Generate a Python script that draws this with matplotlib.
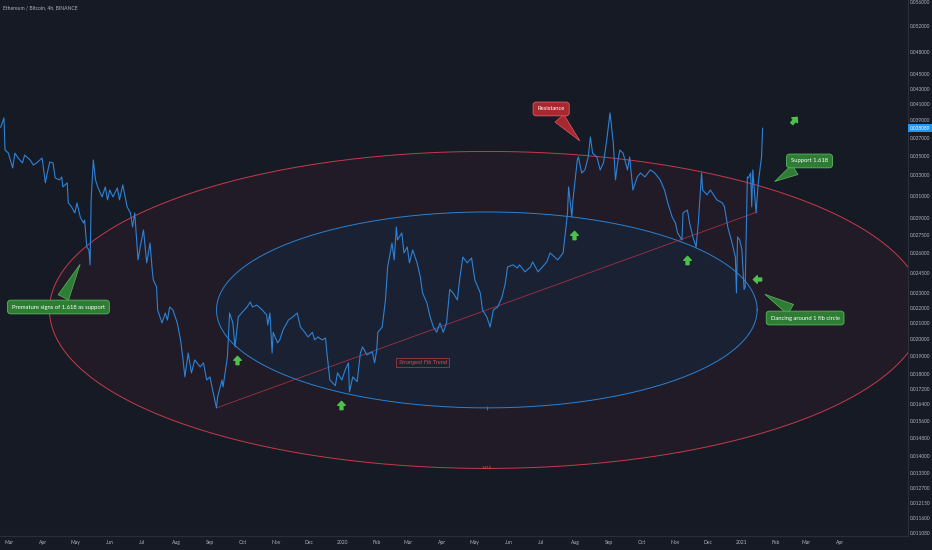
import numpy as np
import pandas as pd
import matplotlib
matplotlib.use("Agg")
import matplotlib.pyplot as plt
import matplotlib.dates as mdates
from matplotlib.path import Path
from matplotlib.markers import MarkerStyle
from matplotlib.transforms import Affine2D
from matplotlib.ticker import FixedLocator, FuncFormatter, NullLocator

## ETH/BTC 4h (one point every few days)
dates = [
    "2019-02-21", "2019-02-24", "2019-02-25", "2019-02-28", "2019-03-04", "2019-03-06", "2019-03-09",
    "2019-03-13", "2019-03-15", "2019-03-20", "2019-03-23", "2019-03-26", "2019-03-31", "2019-04-03",
    "2019-04-04", "2019-04-07", "2019-04-10", "2019-04-12", "2019-04-16", "2019-04-18", "2019-04-19",
    "2019-04-23", "2019-04-24", "2019-04-27", "2019-04-30", "2019-05-02", "2019-05-05", "2019-05-08",
    "2019-05-09", "2019-05-11", "2019-05-13", "2019-05-14", "2019-05-15", "2019-05-17", "2019-05-19",
    "2019-05-21", "2019-05-25", "2019-05-28", "2019-05-30", "2019-06-01", "2019-06-04", "2019-06-08",
    "2019-06-10", "2019-06-13", "2019-06-17", "2019-06-20", "2019-06-22", "2019-06-24", "2019-06-27",
    "2019-06-29", "2019-07-02", "2019-07-05", "2019-07-08", "2019-07-10", "2019-07-11", "2019-07-14",
    "2019-07-15", "2019-07-19", "2019-07-22", "2019-07-24", "2019-07-26", "2019-07-29", "2019-08-02",
    "2019-08-05", "2019-08-07", "2019-08-09", "2019-08-12", "2019-08-15", "2019-08-18", "2019-08-23",
    "2019-08-26", "2019-08-29", "2019-09-01", "2019-09-04", "2019-09-07", "2019-09-08", "2019-09-12",
    "2019-09-13", "2019-09-17", "2019-09-19", "2019-09-22", "2019-09-24", "2019-09-27", "2019-09-30",
    "2019-10-05", "2019-10-08", "2019-10-10", "2019-10-14", "2019-10-19", "2019-10-23", "2019-10-24",
    "2019-10-26", "2019-10-28", "2019-10-29", "2019-11-02", "2019-11-04", "2019-11-07", "2019-11-12",
    "2019-11-16", "2019-11-20", "2019-11-23", "2019-11-27", "2019-11-30", "2019-12-04", "2019-12-06",
    "2019-12-09", "2019-12-13", "2019-12-16", "2019-12-17", "2019-12-20", "2019-12-25", "2019-12-27",
    "2019-12-31", "2020-01-03", "2020-01-06", "2020-01-07", "2020-01-10", "2020-01-14", "2020-01-17",
    "2020-01-19", "2020-01-23", "2020-01-28", "2020-01-30", "2020-02-01", "2020-02-02", "2020-02-06",
    "2020-02-09", "2020-02-11", "2020-02-15", "2020-02-17", "2020-02-19", "2020-02-20", "2020-02-24",
    "2020-02-26", "2020-02-29", "2020-03-02", "2020-03-05", "2020-03-09", "2020-03-12", "2020-03-14",
    "2020-03-18", "2020-03-21", "2020-03-24", "2020-03-27", "2020-03-30", "2020-04-02", "2020-04-05",
    "2020-04-08", "2020-04-11", "2020-04-15", "2020-04-17", "2020-04-20", "2020-04-24", "2020-04-28",
    "2020-05-01", "2020-05-06", "2020-05-08", "2020-05-12", "2020-05-15", "2020-05-18", "2020-05-22",
    "2020-05-26", "2020-05-29", "2020-05-31", "2020-06-05", "2020-06-09", "2020-06-11", "2020-06-16",
    "2020-06-21", "2020-06-23", "2020-06-28", "2020-07-02", "2020-07-06", "2020-07-09", "2020-07-12",
    "2020-07-16", "2020-07-21", "2020-07-25", "2020-07-26", "2020-07-29", "2020-07-30", "2020-08-03",
    "2020-08-04", "2020-08-07", "2020-08-10", "2020-08-13", "2020-08-15", "2020-08-17", "2020-08-21",
    "2020-08-24", "2020-08-27", "2020-08-30", "2020-09-02", "2020-09-05", "2020-09-07", "2020-09-09",
    "2020-09-11", "2020-09-14", "2020-09-18", "2020-09-20", "2020-09-23", "2020-09-27", "2020-09-30",
    "2020-10-04", "2020-10-09", "2020-10-13", "2020-10-18", "2020-10-22", "2020-10-25", "2020-10-29",
    "2020-11-01", "2020-11-03", "2020-11-07", "2020-11-08", "2020-11-12", "2020-11-14", "2020-11-17",
    "2020-11-20", "2020-11-22", "2020-11-24", "2020-11-25", "2020-11-26", "2020-11-30", "2020-12-03",
    "2020-12-05", "2020-12-09", "2020-12-14", "2020-12-16", "2020-12-19", "2020-12-23", "2020-12-26",
    "2020-12-27", "2020-12-28", "2020-12-30", "2021-01-01", "2021-01-03", "2021-01-04", "2021-01-06",
    "2021-01-07", "2021-01-09", "2021-01-10", "2021-01-11", "2021-01-14", "2021-01-16", "2021-01-19",
    "2021-01-20",
]
prices = [
    0.03821, 0.03930, 0.03564, 0.03532, 0.03374, 0.03530, 0.03478,
    0.03426, 0.03510, 0.03457, 0.03404, 0.03426, 0.03478, 0.03224,
    0.03283, 0.03436, 0.03426, 0.03273, 0.03253, 0.03283, 0.03184,
    0.03224, 0.03033, 0.02996, 0.02941, 0.03033, 0.02905, 0.02852,
    0.02878, 0.02651, 0.02627, 0.02510, 0.03061, 0.03457, 0.03253,
    0.03184, 0.03089, 0.03184, 0.03061, 0.03154, 0.03089, 0.03174,
    0.03061, 0.03204, 0.02996, 0.02941, 0.02818, 0.02941, 0.02548,
    0.02651, 0.02792, 0.02525, 0.02683, 0.02472, 0.02397, 0.02347,
    0.02187, 0.02102, 0.02167, 0.02121, 0.02207, 0.02187, 0.02102,
    0.01996, 0.01895, 0.01783, 0.01918, 0.01805, 0.01878, 0.01838,
    0.01861, 0.01766, 0.01783, 0.01698, 0.01622, 0.01676, 0.01766,
    0.01729, 0.01895, 0.02167, 0.02102, 0.01954, 0.02141, 0.02167,
    0.02207, 0.02241, 0.02207, 0.02220, 0.02187, 0.02154, 0.02089,
    0.02167, 0.01918, 0.02043, 0.01978, 0.01996, 0.02057, 0.02121,
    0.02141, 0.02167, 0.02076, 0.02043, 0.02014, 0.02043, 0.01996,
    0.02014, 0.01996, 0.02008, 0.01935, 0.01766, 0.01736, 0.01805,
    0.01766, 0.01821, 0.01861, 0.01703, 0.01783, 0.01757, 0.01918,
    0.01954, 0.01907, 0.01924, 0.01861, 0.01935, 0.02043, 0.02076,
    0.02255, 0.02494, 0.02683, 0.02548, 0.02818, 0.02708, 0.02767,
    0.02603, 0.02651, 0.02525, 0.02627, 0.02525, 0.02419, 0.02304,
    0.02235, 0.02141, 0.02076, 0.02043, 0.02102, 0.02043, 0.02102,
    0.02328, 0.02304, 0.02255, 0.02397, 0.02571, 0.02525, 0.02563,
    0.02397, 0.02304, 0.02187, 0.02141, 0.02076, 0.02187, 0.02207,
    0.02276, 0.02375, 0.02494, 0.02510, 0.02486, 0.02510, 0.02457,
    0.02494, 0.02533, 0.02457, 0.02494, 0.02533, 0.02603, 0.02580,
    0.02548, 0.02603, 0.02941, 0.03184, 0.02905, 0.03061, 0.03457,
    0.03489, 0.03323, 0.03354, 0.03489, 0.03709, 0.03530, 0.03489,
    0.03354, 0.03426, 0.03675, 0.03991, 0.03642, 0.03253, 0.03426,
    0.03564, 0.03530, 0.03354, 0.03489, 0.03154, 0.03283, 0.03323,
    0.03283, 0.03354, 0.03323, 0.03253, 0.03154, 0.03033, 0.02905,
    0.02852, 0.02767, 0.02708, 0.02941, 0.02967, 0.02852, 0.02733,
    0.02651, 0.02852, 0.03154, 0.03323, 0.03154, 0.03108, 0.03154,
    0.03124, 0.03061, 0.03033, 0.02996, 0.02818, 0.02683, 0.02571,
    0.02304, 0.02733, 0.02708, 0.02627, 0.02328, 0.02347, 0.03283,
    0.03273, 0.03323, 0.02996, 0.03354, 0.02941, 0.03224, 0.03489,
    0.038089,
]
last_price = 0.038089

## price scale labels on the right
y_ticks = [0.056, 0.052, 0.048, 0.045, 0.043, 0.041, 0.039, 0.037, 0.035, 0.033, 0.031,
           0.029, 0.0275, 0.026, 0.0245, 0.023, 0.022, 0.021, 0.020, 0.019, 0.018,
           0.0172, 0.0164, 0.0156, 0.0148, 0.014, 0.0133, 0.0127, 0.01215, 0.0116, 0.01108]

## fib circle trend: the Sep 2019 low to mid Jan 2021
trend_dates = ["2019-09-07", "2021-01-15"]
trend_prices = [0.01622, 0.0295]
fib_levels = [1.0, 1.618]

## callouts: text, pointed at (date, price), box at (date, price), colour
callouts = [
    ("Premature signs of 1.618 as support", ("2019-05-06", 0.02533), ("2019-04-15", 0.02207), "green"),
    ("Resistance", ("2020-08-07", 0.03642), ("2020-07-10", 0.0404), "red"),
    ("Support 1.618", ("2021-01-29", 0.03224), ("2021-03-04", 0.03447), "green"),
    ("Dancing around 1 fib circle", ("2021-01-20", 0.02304), ("2021-02-28", 0.02134), "green"),
]
up_arrows = [("2019-09-26", 0.01878), ("2019-12-30", 0.01636), ("2020-07-31", 0.02753), ("2020-11-12", 0.02548)]
left_arrow = ("2021-01-15", 0.02404)
rocket = ("2021-02-18", 0.0390)
trend_label = ("Strongest Fib Trend", "2020-03-14", 0.01861)

bg = "#161a25"
txt = "#b2b5be"
plt.rcParams['font.family'] = ['Lato', 'DejaVu Sans']

fig = plt.figure(figsize=(9.32, 5.5), dpi=100, facecolor=bg)
ax = fig.add_axes([0, 14 / 550, 908 / 932, 536 / 550])
ax.set_facecolor(bg)

x = mdates.date2num(pd.to_datetime(dates))
ax.plot(x, prices, color="#2d82d6", lw=0.8, zorder=4)

## fib circles, drawn as ellipses in (time, log price)
tx = mdates.date2num(pd.to_datetime(trend_dates))
cx = tx.mean()
cy = np.log(trend_prices).mean()
half_dx = (tx[1] - tx[0]) / 2
half_dy = (np.log(trend_prices[1]) - np.log(trend_prices[0])) / 2
t = np.linspace(0, 2 * np.pi, 600)

outer = fib_levels[1]
ax.fill(cx + outer * half_dx * np.cos(t), np.exp(cy + outer * half_dy * np.sin(t)),
        color="#201b26", lw=0, zorder=1)
ax.plot(cx + outer * half_dx * np.cos(t), np.exp(cy + outer * half_dy * np.sin(t)),
        color="#c73a4c", lw=0.7, zorder=2)
inner = fib_levels[0]
ax.fill(cx + inner * half_dx * np.cos(t), np.exp(cy + inner * half_dy * np.sin(t)),
        color="#192132", lw=0, zorder=1.5)
ax.plot(cx + inner * half_dx * np.cos(t), np.exp(cy + inner * half_dy * np.sin(t)),
        color="#2b82d4", lw=0.7, zorder=2)
ax.plot(tx, trend_prices, color="#b8344a", lw=0.6, alpha=0.85, zorder=2)

ax.plot([cx], [np.exp(cy - inner * half_dy)], marker="|", ms=3, color="#2b82d4", mew=0.6, zorder=3)
ax.text(cx, np.exp(cy - outer * half_dy), "1.618", fontsize=2.8, color="#e0505c",
        ha="center", va="center", zorder=3)

## callouts
colours = {
    "green": ("#2f7d34", "#5cb860"),
    "red": ("#a8282f", "#e35b62"),
}
for label, target, box, c in callouts:
    fc, ec = colours[c]
    ax.annotate(label, xy=(mdates.date2num(pd.Timestamp(target[0])), target[1]),
                xytext=(mdates.date2num(pd.Timestamp(box[0])), box[1]),
                fontsize=4.2, color="white", ha="center", va="center", zorder=6,
                bbox=dict(boxstyle="round,pad=0.75,rounding_size=0.5", fc=fc, ec=ec, lw=0.6),
                arrowprops=dict(arrowstyle="wedge,tail_width=2.0,shrink_factor=0.5",
                                fc=fc, ec=ec, lw=0.5))

ax.text(mdates.date2num(pd.Timestamp(trend_label[1])), trend_label[2], trend_label[0],
        fontsize=4.2, color="#e8474f", style="italic", ha="center", va="center", zorder=6,
        bbox=dict(boxstyle="square,pad=0.35", fc="none", ec="#c0393f", lw=0.5))

## green arrows
arrow_shape = Path([(0, 1), (-0.9, 0.05), (-0.35, 0.05), (-0.35, -1), (0.35, -1),
                    (0.35, 0.05), (0.9, 0.05), (0, 1)], closed=True)
green = "#4cc24a"
for d, p in up_arrows:
    ax.plot([mdates.date2num(pd.Timestamp(d))], [p], marker=arrow_shape, ms=6,
            color=green, mec=green, zorder=6)
ax.plot([mdates.date2num(pd.Timestamp(left_arrow[0]))], [left_arrow[1]],
        marker=MarkerStyle(arrow_shape, transform=Affine2D().rotate_deg(90)), ms=6,
        color=green, mec=green, zorder=6)
ax.plot([mdates.date2num(pd.Timestamp(rocket[0]))], [rocket[1]],
        marker=MarkerStyle(arrow_shape, transform=Affine2D().rotate_deg(-40)), ms=6,
        color=green, mec=green, zorder=6)

## axes
ax.set_yscale("log")
ax.set_ylim(0.01097, 0.05634)
ax.set_xlim(mdates.date2num(pd.Timestamp("2019-02-20 09:00")),
            mdates.date2num(pd.Timestamp("2021-06-02 09:00")))

ax.yaxis.tick_right()
ax.yaxis.set_major_locator(FixedLocator(y_ticks))
ax.yaxis.set_minor_locator(NullLocator())
ax.yaxis.set_major_formatter(FuncFormatter(lambda v, pos: "%.6f" % v))

month_ticks = mdates.date2num(pd.date_range("2019-03-01", "2021-04-01", freq="MS"))
ax.xaxis.set_major_locator(FixedLocator(month_ticks))
ax.xaxis.set_minor_locator(NullLocator())


def month_fmt(v, pos):
    d = mdates.num2date(v)
    return str(d.year) if d.month == 1 else d.strftime("%b")


ax.xaxis.set_major_formatter(FuncFormatter(month_fmt))
ax.tick_params(axis="x", length=0, labelsize=3.6, colors=txt, pad=3)
ax.tick_params(axis="y", length=0, labelsize=3.4, colors=txt, pad=1.2)

for s in ["top", "left"]:
    ax.spines[s].set_visible(False)
for s in ["right", "bottom"]:
    ax.spines[s].set_color("#2a2e39")
    ax.spines[s].set_linewidth(0.8)

ax.annotate("%.6f" % last_price, xy=(1.0, last_price), xycoords=("axes fraction", "data"),
            xytext=(1.2, 0), textcoords="offset points", ha="left", va="center",
            fontsize=3.4, color="white", annotation_clip=False, zorder=7,
            bbox=dict(boxstyle="square,pad=0.35", fc="#2196f3", ec="none"))

fig.text(3 / 932, 1 - 8 / 550, "Ethereum / Bitcoin, 4h, BINANCE", fontsize=3.6, color=txt,
         ha="left", va="center")

fig.savefig("out.png", dpi=100, facecolor=bg)
